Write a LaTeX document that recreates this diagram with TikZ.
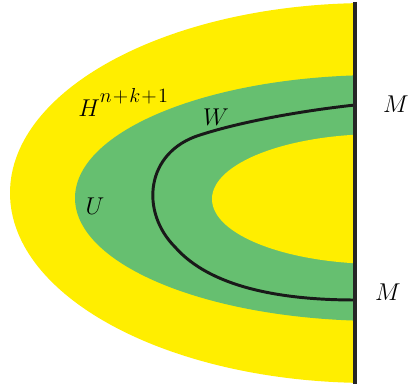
\documentclass[tikz,border=0pt]{standalone}
\usepackage{amsmath}
\usepackage{tikz}
\usetikzlibrary{positioning}
\definecolor{bandyellow}{RGB}{255,238,0}
\definecolor{bandgreen}{RGB}{102,191,112}

\begin{document}
\begin{tikzpicture}[x=0.025cm, y=0.025cm,
    lbl/.style={font=\fontsize{16}{19}\selectfont, inner sep=0pt}]
    \useasboundingbox (0,0) rectangle (409,387);
    \begin{scope}
      \clip (0,0) rectangle (355,387);
      \fill[bandyellow] (370,194) ellipse [x radius=360, y radius=190];
      \fill[bandgreen] (380,189) ellipse [x radius=305, y radius=123];
      \fill[bandyellow] (380,188) ellipse [x radius=168, y radius=65];
    \end{scope}
    \coordinate (wtop) at (355,282);
    \coordinate (wbot) at (355,87);
    \draw[line width=2.1pt, black!90, line cap=round]
      (wtop) .. controls (300,276) and (240,265) .. (200,252)
             .. controls (145,235) and (140,175) .. (175,140)
             .. controls (210,100) and (280,87) .. (wbot);
    \draw[line width=2.8pt, black!85] (355,385) -- (355,3);
    \node[lbl, anchor=base west] (h) at (78,270)
      {$H$\raisebox{10pt}{\fontsize{15}{17}\selectfont$n\!+\!k\!+\!1$}};
    \node[lbl, anchor=base] (w) at (216,261) {$W$};
    \node[lbl, anchor=base] (u) at (95,172) {$U$};
    \node[lbl, anchor=base] (mtop) at (396,274) {$M$};
    \node[lbl, anchor=base] (mbot) at (388,86) {$M$};
  \end{tikzpicture}
\end{document}
